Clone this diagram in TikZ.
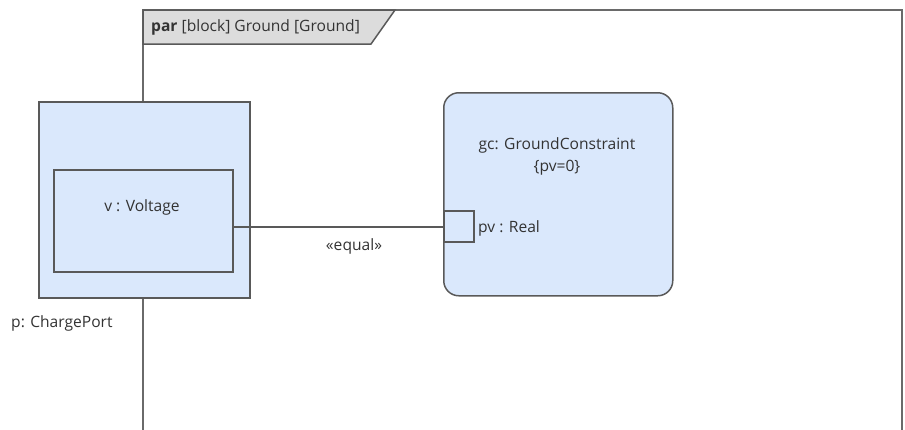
\documentclass[tikz,border=0pt]{standalone}
\usepackage{fontspec}
\setmainfont{Open Sans}
\definecolor{boxfill}{HTML}{DAE8FC}
\definecolor{stroke}{HTML}{595959}
\definecolor{hdrfill}{HTML}{DCDCDC}
\definecolor{txt}{HTML}{333333}
\tikzset{
  lbl/.style={font=\fontsize{15.6}{18}\selectfont, text=txt, inner sep=0pt},
  boxline/.style={draw=stroke, line width=1.5pt},
}
\begin{document}
\begin{tikzpicture}[x=1pt,y=-1pt]
\useasboundingbox (0,0) rectangle (905,429);
% frame
\draw[draw=stroke!90, line width=2.2pt] (143,440) -- (143,10) -- (902,10) -- (902,440);
\draw[boxline, line width=1.5pt, fill=hdrfill] (143,10) -- (395,10) -- (371,44) -- (143,44) -- cycle;
\node[lbl, anchor=west] (hdr) at (151,27.5) {\textbf{par} [block] Ground [Ground]};
% outer block
\node[boxline, fill=boxfill, minimum width=211pt, minimum height=196pt, inner sep=0pt, anchor=north west] (p) at (38,101) {};
\node[boxline, fill=boxfill, minimum width=179pt, minimum height=102pt, inner sep=0pt, anchor=north west] (v) at (53,169) {};
\node[lbl] (vt) at (142,207) {v : Voltage};
\node[lbl, anchor=west] (pt) at (11,323) {p: ChargePort};
% constraint block
\node[boxline, fill=boxfill, rounded corners=15pt, minimum width=229pt, minimum height=203pt, inner sep=0pt, anchor=north west] (gc) at (443,92) {};
\node[lbl] (gct) at (557,145) {gc: GroundConstraint};
\node[lbl] (gcc) at (557,168) {\{pv=0\}};
\node[boxline, fill=boxfill, minimum width=30pt, minimum height=31pt, inner sep=0pt, anchor=north west] (pv) at (443,210) {};
\node[lbl, anchor=west] (pvt) at (478,228) {pv : Real};
% connector
\coordinate (a) at (v.east |- 0,227);
\coordinate (b) at (pv.west |- 0,227);
\draw[draw=stroke, line width=1.2pt] (a) -- (b);
\node[lbl] (eq) at (354,246) {«equal»};
\end{tikzpicture}
\end{document}
